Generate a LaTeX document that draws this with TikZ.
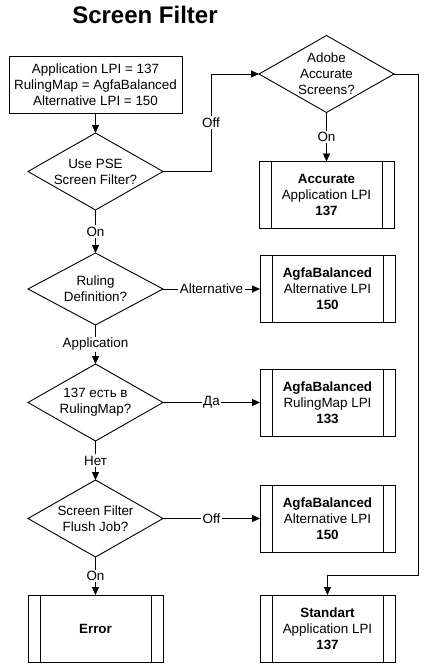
\documentclass[tikz,border=0pt]{standalone}
\usepackage{fontspec}
\setmainfont{Liberation Sans}
\usetikzlibrary{positioning,shapes.geometric,arrows.meta}

\begin{document}
\begin{tikzpicture}[x=1pt, y=-1pt, line width=0.9pt,
    every node/.style={font=\fontsize{13.4}{16}\selectfont, align=center},
    decision/.style={draw, diamond, aspect=1.75, inner sep=0pt, outer sep=0pt, minimum width=135pt, minimum height=77pt},
    inputbox/.style={draw, rectangle, minimum width=173pt, minimum height=57pt, inner sep=0pt, outer sep=0pt},
    process/.style={draw, rectangle, minimum width=135pt, minimum height=67pt, inner sep=0pt, outer sep=0pt,
      path picture={\draw ([xshift=12pt]path picture bounding box.north west) -- ([xshift=12pt]path picture bounding box.south west)
        ([xshift=-12pt]path picture bounding box.north east) -- ([xshift=-12pt]path picture bounding box.south east);}},
    flow/.style={-{Triangle[length=8pt,width=7pt]}},
    choice/.style={fill=white, inner sep=1.5pt}]
  \useasboundingbox (0,0) rectangle (437,670);
  \node (title) at (145,15) {\fontsize{24}{28}\selectfont\bfseries Screen Filter};
  \node[inputbox] (setup) at (95.5,84.5) {Application LPI = 137\\RulingMap = AgfaBalanced\\Alternative LPI = 150};
  \node[decision, below=20pt of setup] (usepse) {Use PSE\\Screen Filter?};
  \node[decision, below=43pt of usepse, minimum height=72pt] (ruling) {Ruling\\Definition?};
  \node[decision, below=39pt of ruling] (inmap) {137 есть в\\RulingMap?};
  \node[decision, below=39pt of inmap] (flush) {Screen Filter\\Flush Job?};
  \node[process, below=38pt of flush] (error) {\textbf{Error}};
  \node[decision, right=77pt of setup, yshift=10.5pt] (adobe) {Adobe\\Accurate\\Screens?};
  \node[process, below=49pt of adobe] (accurate) {\textbf{Accurate}\\Application LPI\\\textbf{137}};
  \node[process, right=97pt of ruling] (altlpi) {\textbf{AgfaBalanced}\\Alternative LPI\\\textbf{150}};
  \node[process, right=97pt of inmap] (maplpi) {\textbf{AgfaBalanced}\\RulingMap LPI\\\textbf{133}};
  \node[process, right=97pt of flush] (flushlpi) {\textbf{AgfaBalanced}\\Alternative LPI\\\textbf{150}};
  \node[process, right=97pt of error] (standart) {\textbf{Standart}\\Application LPI\\\textbf{137}};
  \draw[flow] (setup) -- (usepse);
  \draw[flow] (usepse) -- node[choice]{On} (ruling);
  \draw[flow] (ruling) -- node[choice]{Application} (inmap);
  \draw[flow] (inmap) -- node[choice]{Нет} (flush);
  \draw[flow] (flush) -- node[choice]{On} (error);
  \draw[flow] (ruling) -- node[choice]{Alternative} (altlpi);
  \draw[flow] (inmap) -- node[choice]{Да} (maplpi);
  \draw[flow] (flush) -- node[choice]{Off} (flushlpi);
  \draw[flow] (adobe) -- node[choice]{On} (accurate);
  \draw[flow] (usepse.east) -- ++(48,0) |- node[choice, pos=0.25]{Off} (adobe.west);
  \draw[flow] (adobe.east) -- ++(24,0) |- ([yshift=20pt]standart.north) -- (standart.north);
\end{tikzpicture}
\end{document}
